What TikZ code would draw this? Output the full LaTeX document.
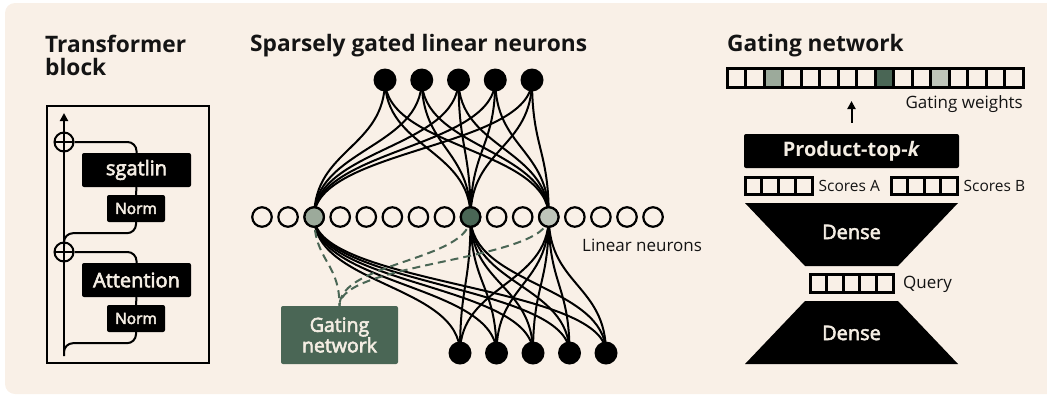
\documentclass[tikz,border=0pt]{standalone}
\usepackage{fontspec}
\setmainfont{Open Sans}
\newfontfamily\mediumfont{Open Sans}[FakeBold=3]
\usetikzlibrary{arrows.meta,positioning,calc}

\definecolor{paper}{HTML}{F9F0E7}
\definecolor{gatedark}{HTML}{4A6655}
\definecolor{gatemid}{HTML}{9CAA9B}
\definecolor{gatelight}{HTML}{BEC5BA}
\definecolor{ink}{HTML}{141414}
\definecolor{boxtext}{HTML}{F4EDE3}

\pgfdeclarelayer{panel}
\pgfdeclarelayer{wires}
\pgfsetlayers{panel,wires,main}

\tikzset{
  heading/.style={inner sep=0pt,text=ink,anchor=base west,font=\fontsize{22.7}{20}\selectfont\bfseries},
  note/.style={inner sep=0pt,text=ink,font=\fontsize{17}{17}\selectfont},
  blackbox/.style={fill=black,rounded corners=2pt,inner sep=0pt,text=boxtext,
    font=\mediumfont\fontsize{20}{20}\selectfont},
  normbox/.style={blackbox,minimum width=58pt,minimum height=27pt,
    font=\mediumfont\fontsize{15.5}{15.5}\selectfont},
  neuron/.style={circle,draw=black,line width=2.2pt,fill=paper,minimum size=19.5pt,inner sep=0pt},
  unit/.style={circle,fill=black,minimum size=23pt,inner sep=0pt},
  cell/.style={draw=black,line width=3pt,fill=paper,minimum width=#1,minimum height=17pt,inner sep=0pt},
  addnode/.style={circle,draw=black,line width=2pt,minimum size=19pt,inner sep=0pt,
    path picture={\draw[line width=2pt] (path picture bounding box.west) -- (path picture bounding box.east);}},
  wire/.style={line width=2pt},
  gatewire/.style={gatedark,line width=2pt,dash pattern=on 8pt off 5pt},
  uparrow/.style={line width=2pt,-{Triangle[width=8pt,length=8pt]}},
}

\begin{document}
\begin{tikzpicture}[x=1pt,y=-1pt]
  \useasboundingbox (0,0) rectangle (1047,397);
  \begin{pgfonlayer}{panel}
    \fill[paper,rounded corners=10pt] (5,3) rectangle (1070,394);
  \end{pgfonlayer}

  % --- transformer block ---
  \node[heading] (blocktitle) at (45,52) {Transformer};
  \node[heading] (blocktitle2) at (45,75) {block};
  \node[draw=black,line width=2pt,minimum width=162pt,minimum height=257pt,inner sep=0pt] (block) at (128,234.5) {};

  \node[blackbox,minimum width=109pt,minimum height=34pt] (sgat) at (136.5,170) {sgatlin};
  \node[normbox] (norm1) at (136,208.5) {Norm};
  \node[blackbox,minimum width=109pt,minimum height=34pt] (attn) at (136.5,280) {Attention};
  \node[normbox] (norm2) at (136,318.5) {Norm};

  \node[addnode] (add1) at (64,142) {};
  \node[addnode] (add2) at (64,252) {};

  \coordinate (stream in) at (64,356);
  \coordinate (stream out) at (64,113);
  \coordinate (tap1) at (64,246);
  \draw[uparrow] (stream in) -- (stream out);

  \draw[wire,rounded corners=9pt] (stream in) |- ($(norm2.south)+(0,11)$) -- (norm2.south);
  \draw[wire] (norm2.north) -- (attn.south);
  \draw[wire,rounded corners=9pt] (attn.north) |- (add2);
  \draw[wire,rounded corners=9pt] (tap1) |- ($(norm1.south)+(0,11)$) -- (norm1.south);
  \draw[wire] (norm1.north) -- (sgat.south);
  \draw[wire,rounded corners=9pt] (sgat.north) |- (add1);

  % --- sparsely gated linear neurons ---
  \node[heading] (neurontitle) at (250,51) {Sparsely gated linear neurons};

  \foreach \i in {1,...,5}
    \node[unit] (t\i) at ({385+36.75*(\i-1)},80) {};
  \foreach \i in {1,...,5}
    \node[unit] (b\i) at ({460+36.5*(\i-1)},353) {};
  \foreach \i in {0,...,15}
    \node[neuron] (n\i) at ({262+26.07*\i},217) {};
  \node[neuron,fill=gatemid] at (n2) {};
  \node[neuron,fill=gatedark] at (n8) {};
  \node[neuron,fill=gatelight] at (n11) {};

  \node[note,anchor=base west] (linlabel) at (582,251) {Linear neurons};

  \node[fill=gatedark,rounded corners=2pt,minimum width=117pt,minimum height=58pt,inner sep=0pt,
    text=boxtext,align=center,font=\mediumfont\fontsize{19.5}{19}\selectfont] (gate) at (339.5,335) {Gating\\network};

  \begin{pgfonlayer}{wires}
    \foreach \t in {1,...,5}
      \foreach \n in {2,8,11}
        \draw[wire] (t\t.center) .. controls +(0,68) and +(0,-68) .. (n\n.center);
    \foreach \b in {1,...,5}
      \foreach \n in {2,8,11}
        \draw[wire] (n\n.center) .. controls +(0,68) and +(0,-68) .. (b\b.center);
    \foreach \n in {2,8,11}
      \draw[gatewire] (n\n.center) .. controls +(0,44) and +(0,-44) .. (gate.north);
  \end{pgfonlayer}

  % --- gating network ---
  \node[heading] (gatetitle) at (727,51) {Gating network};

  \foreach \i/\shade in {0/paper,1/paper,2/gatemid,3/paper,4/paper,5/paper,6/paper,7/paper,
      8/gatedark,9/paper,10/paper,11/gatelight,12/paper,13/paper,14/paper,15/paper}
    \node[cell=18.5pt,minimum height=19pt,fill=\shade] (w\i) at ({727+18.5*(\i+0.5)},77.5) {};
  \node[note,anchor=base east] (wlabel) at (1023,108) {Gating weights};

  \node[blackbox,minimum width=215pt,minimum height=34pt,font=\fontsize{20}{20}\selectfont\bfseries] (topk) at (851.5,151) {Product-top-\textit{k}};
  \coordinate (wtip) at (851.5,101);
  \draw[uparrow,shorten <=11pt] (topk.north) -- (wtip);

  \foreach \i in {0,...,3}
    \node[cell=16.75pt] (sa\i) at ({745+16.75*(\i+0.5)},185.5) {};
  \foreach \i in {0,...,3}
    \node[cell=16.5pt] (sb\i) at ({891+16.5*(\i+0.5)},185.5) {};
  \node[note,anchor=west,font=\fontsize{15.5}{15.5}\selectfont] (salabel) at ([xshift=5pt]sa3.east) {Scores A};
  \node[note,anchor=west,font=\fontsize{15.5}{15.5}\selectfont] (sblabel) at ([xshift=5pt]sb3.east) {Scores B};

  % dense layers squeezing into the query
  \fill (745,203) -- (958,203) -- (898,266) -- (805,266) -- cycle;
  \node[text=boxtext,font=\mediumfont\fontsize{20}{20}\selectfont] (dense1) at (851.5,232) {Dense};
  \foreach \i in {0,...,4}
    \node[cell=16.6pt,minimum height=18pt] (q\i) at ({810+16.6*(\i+0.5)},283) {};
  \node[note,anchor=base west] (qlabel) at (903,288.5) {Query};
  \fill (805,301) -- (898,301) -- (958,364) -- (745,364) -- cycle;
  \node[text=boxtext,font=\mediumfont\fontsize{20}{20}\selectfont] (dense2) at (851.5,333) {Dense};
\end{tikzpicture}
\end{document}
